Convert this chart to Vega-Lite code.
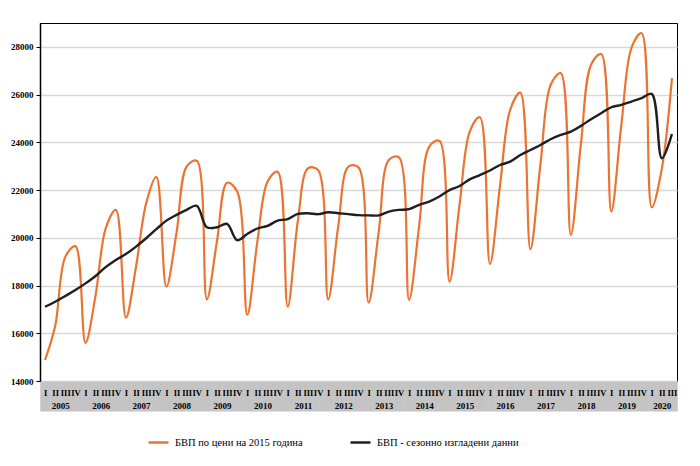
{
  "$schema": "https://vega.github.io/schema/vega-lite/v6.json",
  "width": 637,
  "height": 358,
  "autosize": {"type": "none"},
  "padding": {"left": 40, "top": 23, "right": 23, "bottom": 85},
  "background": "#ffffff",
  "title": {"text": "млн. лв.", "anchor": "start", "frame": "group", "font": "Liberation Serif", "fontSize": 10, "fontWeight": "bold", "color": "#000", "baseline": "bottom", "offset": 20},
  "config": {
    "view": {"stroke": "#000", "strokeWidth": 1}
  },
  "data": {"values": [
    {"t": 0, "gdp": 14880, "sa": 17110}, {"t": 1, "gdp": 16300, "sa": 17320}, {"t": 2, "gdp": 19200, "sa": 17560}, {"t": 3, "gdp": 19650, "sa": 17810},
    {"t": 4, "gdp": 15600, "sa": 18090}, {"t": 5, "gdp": 17600, "sa": 18400}, {"t": 6, "gdp": 20400, "sa": 18770}, {"t": 7, "gdp": 21170, "sa": 19070},
    {"t": 8, "gdp": 16650, "sa": 19320}, {"t": 9, "gdp": 18800, "sa": 19630}, {"t": 10, "gdp": 21450, "sa": 19980}, {"t": 11, "gdp": 22550, "sa": 20360},
    {"t": 12, "gdp": 17950, "sa": 20720}, {"t": 13, "gdp": 20200, "sa": 20960}, {"t": 14, "gdp": 22980, "sa": 21170}, {"t": 15, "gdp": 23230, "sa": 21340},
    {"t": 16, "gdp": 17420, "sa": 20440}, {"t": 17, "gdp": 19850, "sa": 20440}, {"t": 18, "gdp": 22310, "sa": 20580}, {"t": 19, "gdp": 21940, "sa": 19900},
    {"t": 20, "gdp": 16770, "sa": 20160}, {"t": 21, "gdp": 19850, "sa": 20390}, {"t": 22, "gdp": 22350, "sa": 20500}, {"t": 23, "gdp": 22770, "sa": 20720},
    {"t": 24, "gdp": 17110, "sa": 20780}, {"t": 25, "gdp": 20700, "sa": 21000}, {"t": 26, "gdp": 22910, "sa": 21030}, {"t": 27, "gdp": 22840, "sa": 20990},
    {"t": 28, "gdp": 17420, "sa": 21070}, {"t": 29, "gdp": 20500, "sa": 21030}, {"t": 30, "gdp": 22980, "sa": 20990}, {"t": 31, "gdp": 22950, "sa": 20950},
    {"t": 32, "gdp": 17280, "sa": 20940}, {"t": 33, "gdp": 20250, "sa": 20940}, {"t": 34, "gdp": 23260, "sa": 21100}, {"t": 35, "gdp": 23370, "sa": 21170},
    {"t": 36, "gdp": 17400, "sa": 21200}, {"t": 37, "gdp": 20500, "sa": 21380}, {"t": 38, "gdp": 23820, "sa": 21520}, {"t": 39, "gdp": 24070, "sa": 21730},
    {"t": 40, "gdp": 18160, "sa": 22000}, {"t": 41, "gdp": 21400, "sa": 22170}, {"t": 42, "gdp": 24450, "sa": 22450}, {"t": 43, "gdp": 25050, "sa": 22630},
    {"t": 44, "gdp": 18900, "sa": 22820}, {"t": 45, "gdp": 22200, "sa": 23050}, {"t": 46, "gdp": 25360, "sa": 23190}, {"t": 47, "gdp": 26080, "sa": 23470},
    {"t": 48, "gdp": 19520, "sa": 23680}, {"t": 49, "gdp": 23100, "sa": 23890}, {"t": 50, "gdp": 26400, "sa": 24130}, {"t": 51, "gdp": 26900, "sa": 24310},
    {"t": 52, "gdp": 20120, "sa": 24450}, {"t": 53, "gdp": 23950, "sa": 24690}, {"t": 54, "gdp": 27250, "sa": 24970}, {"t": 55, "gdp": 27700, "sa": 25220},
    {"t": 56, "gdp": 21100, "sa": 25470}, {"t": 57, "gdp": 24750, "sa": 25570}, {"t": 58, "gdp": 27960, "sa": 25710}, {"t": 59, "gdp": 28570, "sa": 25850},
    {"t": 60, "gdp": 21280, "sa": 26030}, {"t": 61, "gdp": 22900, "sa": 23330}, {"t": 62, "gdp": 26690, "sa": 24350}
  ]},
  "layer": [
    {
      "mark": {"type": "line", "interpolate": "catmull-rom", "strokeWidth": 2.2},
      "encoding": {
        "x": {"field": "t", "type": "quantitative",
          "scale": {"domain": [-0.5, 62.5], "nice": false, "zero": false},
          "axis": {
            "orient": "bottom",
            "values": [0,1,2,3,4,5,6,7,8,9,10,11,12,13,14,15,16,17,18,19,20,21,22,23,24,25,26,27,28,29,30,31,32,33,34,35,36,37,38,39,40,41,42,43,44,45,46,47,48,49,50,51,52,53,54,55,56,57,58,59,60,61,62],
            "labelExpr": "['I','II','III','IV'][datum.value % 4]",
            "title": null, "grid": false, "domain": false,
            "tickSize": 30, "tickWidth": 10.6, "tickColor": "#c4c4c4", "tickRound": false, "tickCap": "butt",
            "labelPadding": -23, "labelFont": "Liberation Serif", "labelFontSize": 8.5, "labelFontWeight": "bold", "labelColor": "#000",
            "labelOverlap": false, "labelFlush": false, "labelBound": false
          }
        },
        "y": {"field": "gdp", "type": "quantitative",
          "scale": {"domain": [14000, 29000], "nice": false, "zero": false},
          "axis": {
            "values": [14000, 16000, 18000, 20000, 22000, 24000, 26000, 28000],
            "format": "d", "title": null,
            "grid": true, "gridColor": "#d9d9d9", "gridWidth": 1.5,
            "domainColor": "#000", "domainWidth": 1.5, "tickColor": "#000", "tickSize": 4, "labelPadding": 3,
            "labelFont": "Liberation Serif", "labelFontSize": 9, "labelFontWeight": "bold", "labelColor": "#000"
          }
        },
        "color": {"datum": "БВП по цени на 2015 година", "type": "nominal",
          "scale": {"domain": ["БВП по цени на 2015 година", "БВП - сезонно изгладени данни"], "range": ["#EA7532", "#1f1f1f"]},
          "legend": {
            "orient": "none", "legendX": 107, "legendY": 408, "direction": "horizontal", "title": null,
            "symbolType": "stroke", "symbolSize": 400, "symbolStrokeWidth": 2.5,
            "labelFont": "Liberation Serif", "labelFontSize": 10.5, "labelColor": "#000", "labelOffset": 5,
            "columnPadding": 42
          }
        }
      }
    },
    {
      "mark": {"type": "line", "interpolate": "catmull-rom", "strokeWidth": 2.4},
      "encoding": {
        "x": {"field": "t", "type": "quantitative",
          "scale": {"domain": [-0.5, 62.5], "nice": false, "zero": false},
          "axis": {
            "orient": "bottom",
            "values": [1.5, 5.5, 9.5, 13.5, 17.5, 21.5, 25.5, 29.5, 33.5, 37.5, 41.5, 45.5, 49.5, 53.5, 57.5, 61],
            "labelExpr": "'' + (2005 + floor(datum.value / 4))",
            "title": null, "grid": false, "domain": false, "ticks": false,
            "labelPadding": 20, "labelFont": "Liberation Serif", "labelFontSize": 9, "labelFontWeight": "bold", "labelColor": "#000",
            "labelOverlap": false, "labelFlush": false, "labelBound": false, "zindex": 2
          }
        },
        "y": {"field": "sa", "type": "quantitative",
          "scale": {"domain": [14000, 29000], "nice": false, "zero": false}
        },
        "color": {"datum": "БВП - сезонно изгладени данни", "type": "nominal"}
      }
    }
  ],
  "resolve": {"axis": {"x": "independent"}}
}
